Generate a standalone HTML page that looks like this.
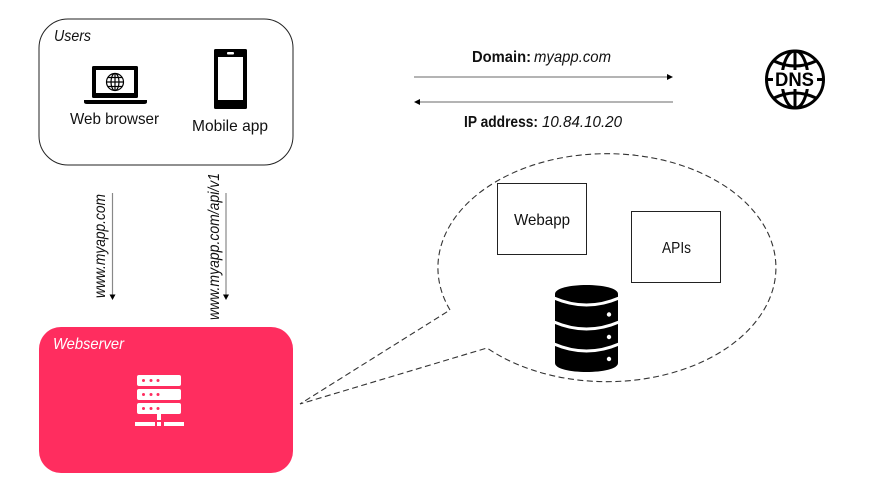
<!DOCTYPE html>
<html>
<head>
<meta charset="utf-8">
<style>
html,body{margin:0;padding:0;background:#fff;width:875px;height:492px;overflow:hidden}
svg{display:block}
text{font-family:"Liberation Sans",sans-serif;font-size:16px;fill:#111}
</style>
</head>
<body>
<svg width="875" height="492" viewBox="0 0 875 492" xmlns="http://www.w3.org/2000/svg">
<!-- Users -->
<rect x="39" y="19" width="254" height="146" rx="29" fill="#fff" stroke="#222" stroke-width="1"/>
<text x="54" y="41" font-style="italic" textLength="37" lengthAdjust="spacingAndGlyphs">Users</text>
<!-- laptop -->
<rect x="92" y="66" width="46" height="32" rx="1.5" fill="#000"/>
<rect x="96" y="70" width="38" height="23" fill="#fff"/>
<path d="M84 100H147V102Q147 104 144 104H87Q84 104 84 102Z" fill="#000"/>
<g fill="none" stroke="#000" stroke-width="1.2">
<circle cx="115" cy="82" r="8.5"/>
<ellipse cx="115" cy="82" rx="4" ry="8.5"/>
<path d="M115 73.5V90.5M106.5 82H123.5M108 77.5H122M108 86.5H122"/>
</g>
<text x="70" y="124" textLength="89" lengthAdjust="spacingAndGlyphs">Web browser</text>
<!-- phone -->
<rect x="214" y="49" width="33" height="60" rx="1.5" fill="#000"/>
<rect x="218" y="57" width="25" height="43" fill="#fff"/>
<rect x="227" y="52" width="7" height="2.5" rx="1" fill="#fff"/>
<text x="192" y="131" textLength="76" lengthAdjust="spacingAndGlyphs">Mobile app</text>
<!-- vertical arrows -->
<line x1="112.5" y1="193" x2="112.5" y2="295" stroke="#888" stroke-width="1.2"/>
<path d="M109.5 294.5H115.5L112.5 300Z" fill="#000"/>
<line x1="226" y1="193" x2="226" y2="295" stroke="#888" stroke-width="1.2"/>
<path d="M223 294.5H229L226 300Z" fill="#000"/>
<text transform="translate(105 298) rotate(-90)" font-style="italic" textLength="104" lengthAdjust="spacingAndGlyphs">www.myapp.com</text>
<text transform="translate(219 320) rotate(-90)" font-style="italic" textLength="147" lengthAdjust="spacingAndGlyphs">www.myapp.com/api/v1</text>
<!-- Webserver -->
<rect x="39" y="327" width="254" height="146" rx="22" fill="#ff2d5f"/>
<text x="53" y="349" font-style="italic" style="fill:#fff" textLength="71" lengthAdjust="spacingAndGlyphs">Webserver</text>
<g fill="#fff">
<rect x="137" y="375" width="44" height="11" rx="2"/>
<rect x="137" y="389" width="44" height="11" rx="2"/>
<rect x="137" y="403" width="44" height="11" rx="2"/>
<rect x="157" y="413" width="4" height="7"/>
<rect x="135" y="422" width="20" height="4"/>
<rect x="157" y="422" width="4" height="4"/>
<rect x="164" y="422" width="20" height="4"/>
</g>
<g fill="#ff2d5f">
<circle cx="143.5" cy="380.5" r="1.5"/><circle cx="151" cy="380.5" r="1.5"/><circle cx="158" cy="380.5" r="1.5"/>
<circle cx="143.5" cy="394.5" r="1.5"/><circle cx="151" cy="394.5" r="1.5"/><circle cx="158" cy="394.5" r="1.5"/>
<circle cx="143.5" cy="408.5" r="1.5"/><circle cx="151" cy="408.5" r="1.5"/><circle cx="158" cy="408.5" r="1.5"/>
</g>
<!-- DNS arrows -->
<text x="472" y="62" font-weight="bold" textLength="59" lengthAdjust="spacingAndGlyphs">Domain:</text>
<text x="534" y="62" font-style="italic" textLength="77" lengthAdjust="spacingAndGlyphs">myapp.com</text>
<line x1="414" y1="77" x2="668" y2="77" stroke="#888" stroke-width="1.2"/>
<path d="M667 74L673 77L667 80Z" fill="#000"/>
<line x1="420" y1="102" x2="673" y2="102" stroke="#888" stroke-width="1.2"/>
<path d="M420 99L414 102L420 105Z" fill="#000"/>
<text x="464" y="127" font-weight="bold" textLength="74" lengthAdjust="spacingAndGlyphs">IP address:</text>
<text x="542" y="127" font-style="italic" textLength="80" lengthAdjust="spacingAndGlyphs">10.84.10.20</text>
<!-- DNS globe -->
<g fill="none" stroke="#000" stroke-width="3">
<circle cx="795" cy="79.5" r="28.5"/>
<ellipse cx="795" cy="79.5" rx="13" ry="28.5"/>
<path d="M795 51V108M767 79.5H823M774 61Q795 71 816 61M774 98Q795 88 816 98"/>
</g>
<rect x="773" y="70" width="44" height="19" fill="#fff"/>
<text x="775" y="86" font-weight="bold" style="font-size:19px;fill:#000" textLength="39" lengthAdjust="spacingAndGlyphs">DNS</text>
<!-- Callout -->
<path d="M450 310A169 114 0 1 1 487 348L300 404Z" fill="none" stroke="#333" stroke-width="1.1" stroke-dasharray="6 3.5"/>
<rect x="497.5" y="183.5" width="89" height="71" fill="#fff" stroke="#222" stroke-width="1"/>
<text x="514" y="225" textLength="56" lengthAdjust="spacingAndGlyphs">Webapp</text>
<rect x="631.5" y="211.5" width="89" height="71" fill="#fff" stroke="#222" stroke-width="1"/>
<text x="662" y="253" textLength="29" lengthAdjust="spacingAndGlyphs">APIs</text>
<!-- Database -->
<path d="M555 294C555 282 618 282 618 294V363C618 375 555 375 555 363Z" fill="#000"/>
<g fill="none" stroke="#fff" stroke-width="3">
<path d="M554 298Q586.5 312 619 298"/>
<path d="M554 322Q586.5 336 619 322"/>
<path d="M554 344Q586.5 358 619 344"/>
</g>
<g fill="#fff">
<circle cx="609" cy="314.5" r="2.2"/>
<circle cx="609" cy="337" r="2.2"/>
<circle cx="609" cy="359" r="2.2"/>
</g>
</svg>
</body>
</html>
